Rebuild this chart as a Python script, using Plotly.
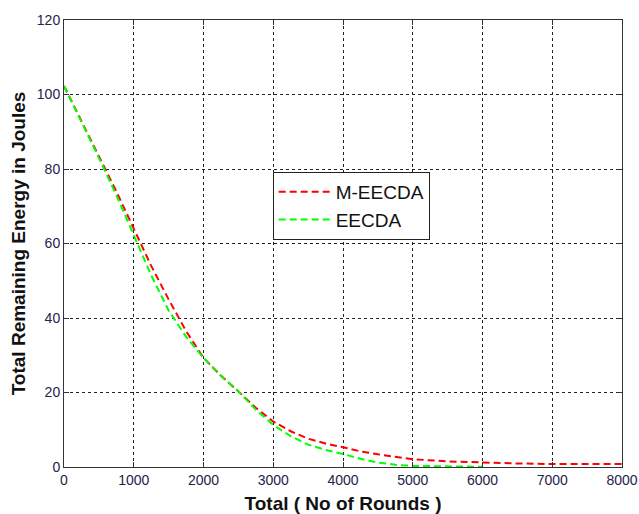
import plotly.graph_objects as go

# Remaining network energy per round count
rounds_meecda = [0, 250, 500, 750, 1000, 1250, 1500, 1750, 2000, 2250, 2500, 2750,
                 3000, 3250, 3500, 3750, 4000, 4250, 4500, 4750, 5000, 5500, 6000,
                 6500, 7000, 8000]
energy_meecda = [102.3, 93, 83.5, 74, 64, 54, 45, 36.5, 29.3, 24.5, 20.3, 15.9,
                 12.2, 9.6, 7.6, 6.3, 5.3, 4.2, 3.4, 2.7, 2.1, 1.5, 1.15,
                 0.95, 0.8, 0.8]

rounds_eecda = [0, 250, 500, 750, 1000, 1250, 1500, 1750, 2000, 2250, 2500, 2750,
                3000, 3250, 3500, 3750, 4000, 4250, 4500, 4750, 5000, 5500, 6000]
energy_eecda = [102.3, 92.8, 83, 73, 62, 51.5, 42, 35, 29.3, 24.5, 20.3, 15.4,
                11.3, 8.3, 6.0, 4.6, 3.5, 2.2, 1.2, 0.6, 0.3, 0.1, 0.05]

x_ticks = [0, 1000, 2000, 3000, 4000, 5000, 6000, 7000, 8000]
y_ticks = [0, 20, 40, 60, 80, 100, 120]

fig = go.Figure()
fig.add_trace(go.Scatter(x=rounds_meecda, y=energy_meecda, mode="lines", name="M-EECDA",
                         line=dict(color="#ff0000", width=2, dash="7px,4px")))
fig.add_trace(go.Scatter(x=rounds_eecda, y=energy_eecda, mode="lines", name="EECDA",
                         line=dict(color="#00ff00", width=2, dash="7px,4px")))

axis_common = dict(
    showline=True, linecolor="#333333", linewidth=1, mirror="ticks",
    ticks="inside", ticklen=5, tickcolor="#333333",
    showgrid=True, gridcolor="#222222", gridwidth=1, griddash="3px,3px",
    zeroline=False, automargin=False,
    tickfont=dict(family="Arial, Liberation Sans", size=14, color="#23234a"),
)

fig.update_xaxes(range=[0, 8000], tickvals=x_ticks, **axis_common,
                 title=dict(text="<b>Total ( No of Rounds )</b>", standoff=10,
                            font=dict(family="Arial, Liberation Sans", size=19, color="#111111")))
fig.update_yaxes(range=[0, 120], tickvals=y_ticks, **axis_common,
                 title=dict(text="<b>Total Remaining Energy in Joules</b>", standoff=6,
                            font=dict(family="Arial, Liberation Sans", size=19, color="#111111")))

fig.update_layout(
    width=639, height=514,
    margin=dict(l=64, r=17, t=20, b=47),
    paper_bgcolor="white", plot_bgcolor="white",
    showlegend=True,
    legend=dict(x=0.374, y=0.66, xanchor="left", yanchor="top",
                bgcolor="white", bordercolor="#222222", borderwidth=1,
                font=dict(family="Arial, Liberation Sans", size=19, color="#111111"),
                itemwidth=52, tracegroupgap=4),
)

fig.write_html("out.html")
